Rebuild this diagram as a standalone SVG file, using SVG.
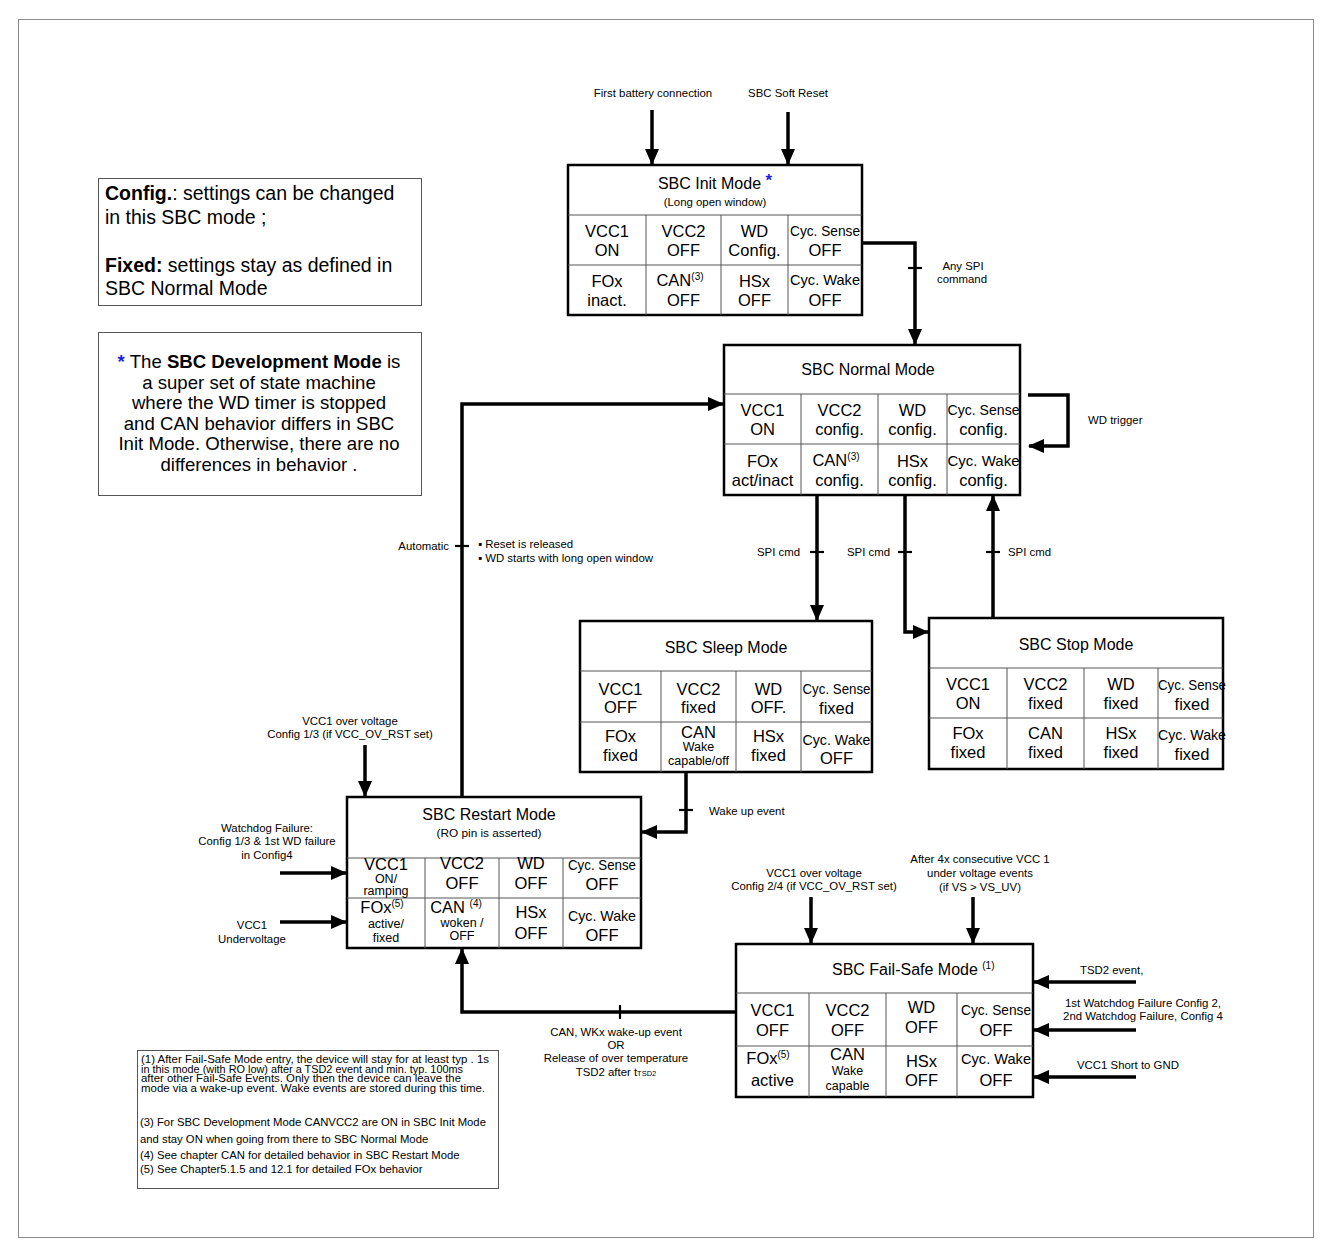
<svg xmlns="http://www.w3.org/2000/svg" width="1332" height="1256" viewBox="0 0 1332 1256">
<defs>
<marker id="ah" markerUnits="userSpaceOnUse" markerWidth="16" markerHeight="14" refX="15" refY="7" orient="auto">
<path d="M0,0 L16,7 L0,14 z" fill="#000"/>
</marker>
<style>
.frame{fill:#fff;stroke:#8a8a8a;stroke-width:1}
.box{fill:#fff;stroke:#000;stroke-width:2.5}
.note{fill:#fff;stroke:#555;stroke-width:1}
.grid{stroke:#555;stroke-width:1;fill:none}
.conn{stroke:#000;stroke-width:3.5;fill:none}
.tick{stroke:#000;stroke-width:2.2}
text{font-family:"Liberation Sans",Arial,sans-serif;fill:#000}
.c{text-anchor:middle;font-size:16.5px}
.cs{text-anchor:middle;font-size:12.5px}
.cy{text-anchor:middle;font-size:15px}
.ti{text-anchor:middle;font-size:16px}
.lb{font-size:11.4px}
.lbc{font-size:11.4px;text-anchor:middle}
.fn{font-size:10.3px}
.fn2{font-size:11.3px}
.nt{font-size:19.5px}
.ntc{font-size:18.6px;text-anchor:middle}
.sup{font-size:10px}
.blue{fill:#1f1fe0;font-weight:bold}
</style>
</defs>
<rect class="frame" x="18.5" y="19.5" width="1295" height="1218"/>

<g id="legend-config">
<rect class="note" x="98.5" y="178.5" width="323" height="127"/>
<text class="nt" x="105" y="200"><tspan font-weight="bold">Config.</tspan>: settings can be changed</text>
<text class="nt" x="105" y="224">in this SBC mode ;</text>
<text class="nt" x="105" y="272"><tspan font-weight="bold">Fixed:</tspan> settings stay as defined in</text>
<text class="nt" x="105" y="295">SBC Normal Mode</text>
</g>

<g id="legend-dev">
<rect class="note" x="98.5" y="332.5" width="323" height="163"/>
<text class="ntc" x="259" y="368"><tspan class="blue">*</tspan> The <tspan font-weight="bold">SBC Development Mode</tspan>  is</text>
<text class="ntc" x="259" y="388.5">a super set of state machine</text>
<text class="ntc" x="259" y="409">where the WD timer is stopped</text>
<text class="ntc" x="259" y="429.5">and CAN behavior differs in SBC</text>
<text class="ntc" x="259" y="450">Init Mode. Otherwise, there are no</text>
<text class="ntc" x="259" y="470.5">differences in behavior .</text>
</g>

<g id="footnotes">
<rect class="note" x="137.5" y="1050.5" width="361" height="138"/>
<text class="fn" x="141" y="1063" textLength="348" lengthAdjust="spacingAndGlyphs">(1) After Fail-Safe Mode entry, the device will stay for at least typ . 1s</text>
<text class="fn" x="141" y="1072.5" textLength="322" lengthAdjust="spacingAndGlyphs">in this mode (with RO low) after a TSD2 event and min. typ. 100ms</text>
<text class="fn" x="141" y="1082" textLength="320" lengthAdjust="spacingAndGlyphs">after other Fail-Safe Events. Only then the device can leave the</text>
<text class="fn" x="141" y="1091.5" textLength="344" lengthAdjust="spacingAndGlyphs">mode via a wake-up event. Wake events are stored during this time.</text>
<text class="fn2" x="140" y="1126">(3) For SBC Development Mode CANVCC2 are ON in SBC Init Mode</text>
<text class="fn2" x="140" y="1143">and stay ON when going from there to SBC Normal Mode</text>
<text class="fn2" x="140" y="1159">(4) See chapter CAN for detailed behavior in SBC Restart Mode</text>
<text class="fn2" x="140" y="1173">(5) See Chapter5.1.5 and 12.1 for detailed FOx behavior</text>
</g>

<g id="init-mode">
<rect class="box" x="568" y="165" width="294" height="150"/>
<path class="grid" d="M568,215H862M568,265H862M646,215V315M721,215V315M788,215V315"/>
<text class="ti" x="715" y="189">SBC Init Mode <tspan class="blue" font-size="17px" dy="-3">*</tspan></text>
<text class="lbc" x="715" y="206">(Long open window)</text>
<text class="c" x="607" y="237">VCC1</text><text class="c" x="607" y="256">ON</text>
<text class="c" x="683.5" y="237">VCC2</text><text class="c" x="683.5" y="256">OFF</text>
<text class="c" x="754.5" y="237">WD</text><text class="c" x="754.5" y="256">Config.</text>
<text class="cy" x="825" y="236" textLength="70" lengthAdjust="spacingAndGlyphs">Cyc. Sense</text><text class="c" x="825" y="256">OFF</text>
<text class="c" x="607" y="287">FOx</text><text class="c" x="607" y="306">inact.</text>
<text class="c" x="680" y="286">CAN<tspan class="sup" dy="-6">(3)</tspan></text><text class="c" x="683.5" y="306">OFF</text>
<text class="c" x="754.5" y="287">HSx</text><text class="c" x="754.5" y="306">OFF</text>
<text class="cy" x="825" y="285" textLength="70" lengthAdjust="spacingAndGlyphs">Cyc. Wake</text><text class="c" x="825" y="306">OFF</text>
</g>

<g id="normal-mode">
<rect class="box" x="724" y="345" width="296" height="150"/>
<path class="grid" d="M724,394H1020M724,444H1020M801,394V495M878,394V495M947,394V495"/>
<text class="ti" x="868" y="375">SBC Normal Mode</text>
<text class="c" x="762.5" y="416">VCC1</text><text class="c" x="762.5" y="435">ON</text>
<text class="c" x="839.5" y="416">VCC2</text><text class="c" x="839.5" y="435">config.</text>
<text class="c" x="912.5" y="416">WD</text><text class="c" x="912.5" y="435">config.</text>
<text class="cy" x="983.5" y="415" textLength="72" lengthAdjust="spacingAndGlyphs">Cyc. Sense</text><text class="c" x="983.5" y="435">config.</text>
<text class="c" x="762.5" y="467">FOx</text><text class="c" x="762.5" y="486">act/inact</text>
<text class="c" x="836" y="466">CAN<tspan class="sup" dy="-6">(3)</tspan></text><text class="c" x="839.5" y="486">config.</text>
<text class="c" x="912.5" y="467">HSx</text><text class="c" x="912.5" y="486">config.</text>
<text class="cy" x="983.5" y="466" textLength="72" lengthAdjust="spacingAndGlyphs">Cyc. Wake</text><text class="c" x="983.5" y="486">config.</text>
</g>

<g id="sleep-mode">
<rect class="box" x="580" y="621" width="292" height="151"/>
<path class="grid" d="M580,671H872M580,722H872M661,671V772M736,671V772M801,671V772"/>
<text class="ti" x="726" y="653">SBC Sleep Mode</text>
<text class="c" x="620.5" y="695">VCC1</text><text class="c" x="620.5" y="713">OFF</text>
<text class="c" x="698.5" y="695">VCC2</text><text class="c" x="698.5" y="713">fixed</text>
<text class="c" x="768.5" y="695">WD</text><text class="c" x="768.5" y="713">OFF.</text>
<text class="cy" x="836.5" y="694" textLength="68" lengthAdjust="spacingAndGlyphs">Cyc. Sense</text><text class="c" x="836.5" y="714">fixed</text>
<text class="c" x="620.5" y="742">FOx</text><text class="c" x="620.5" y="761">fixed</text>
<text class="c" x="698.5" y="738">CAN</text><text class="cs" x="698.5" y="751">Wake</text><text class="cs" x="698.5" y="765">capable/off</text>
<text class="c" x="768.5" y="742">HSx</text><text class="c" x="768.5" y="761">fixed</text>
<text class="cy" x="836.5" y="745" textLength="68" lengthAdjust="spacingAndGlyphs">Cyc. Wake</text><text class="c" x="836.5" y="764">OFF</text>
</g>

<g id="stop-mode">
<rect class="box" x="929" y="618" width="294" height="151"/>
<path class="grid" d="M929,668H1223M929,718H1223M1007,668V769M1084,668V769M1158,668V769"/>
<text class="ti" x="1076" y="650">SBC Stop Mode</text>
<text class="c" x="968" y="690">VCC1</text><text class="c" x="968" y="709">ON</text>
<text class="c" x="1045.5" y="690">VCC2</text><text class="c" x="1045.5" y="709">fixed</text>
<text class="c" x="1121" y="690">WD</text><text class="c" x="1121" y="709">fixed</text>
<text class="cy" x="1192" y="690" textLength="68" lengthAdjust="spacingAndGlyphs">Cyc. Sense</text><text class="c" x="1192" y="710">fixed</text>
<text class="c" x="968" y="739">FOx</text><text class="c" x="968" y="758">fixed</text>
<text class="c" x="1045.5" y="739">CAN</text><text class="c" x="1045.5" y="758">fixed</text>
<text class="c" x="1121" y="739">HSx</text><text class="c" x="1121" y="758">fixed</text>
<text class="cy" x="1192" y="740" textLength="68" lengthAdjust="spacingAndGlyphs">Cyc. Wake</text><text class="c" x="1192" y="760">fixed</text>
</g>

<g id="restart-mode">
<rect class="box" x="347" y="797" width="294" height="151"/>
<path class="grid" d="M347,858H641M347,898H641M425,858V948M499,858V948M563,858V948"/>
<text class="ti" x="489" y="820">SBC Restart Mode</text>
<text class="lbc" x="489" y="837" style="font-size:11.8px">(RO pin is asserted)</text>
<text class="c" x="386" y="870">VCC1</text><text class="cs" x="386" y="883">ON/</text><text class="cs" x="386" y="895">ramping</text>
<text class="c" x="462" y="869">VCC2</text><text class="c" x="462" y="889">OFF</text>
<text class="c" x="531" y="869">WD</text><text class="c" x="531" y="889">OFF</text>
<text class="cy" x="602" y="870" textLength="68" lengthAdjust="spacingAndGlyphs">Cyc. Sense</text><text class="c" x="602" y="890">OFF</text>
<text class="c" x="382" y="913">FOx<tspan class="sup" dy="-6">(5)</tspan></text><text class="cs" x="386" y="928">active/</text><text class="cs" x="386" y="942">fixed</text>
<text class="c" x="456" y="913">CAN <tspan class="sup" dy="-6">(4)</tspan></text><text class="cs" x="462" y="927">woken /</text><text class="cs" x="462" y="940">OFF</text>
<text class="c" x="531" y="918">HSx</text><text class="c" x="531" y="939">OFF</text>
<text class="cy" x="602" y="921" textLength="68" lengthAdjust="spacingAndGlyphs">Cyc. Wake</text><text class="c" x="602" y="941">OFF</text>
</g>

<g id="failsafe-mode">
<rect class="box" x="736" y="944" width="297" height="153"/>
<path class="grid" d="M736,993H1033M736,1046H1033M809,993V1097M886,993V1097M957,993V1097"/>
<text class="ti" x="832" y="975" style="text-anchor:start">SBC Fail-Safe Mode <tspan class="sup" dy="-6">(1)</tspan></text>
<text class="c" x="772.5" y="1016">VCC1</text><text class="c" x="772.5" y="1036">OFF</text>
<text class="c" x="847.5" y="1016">VCC2</text><text class="c" x="847.5" y="1036">OFF</text>
<text class="c" x="921.5" y="1013">WD</text><text class="c" x="921.5" y="1033">OFF</text>
<text class="cy" x="996" y="1015" textLength="70" lengthAdjust="spacingAndGlyphs">Cyc. Sense</text><text class="c" x="996" y="1036">OFF</text>
<text class="c" x="768" y="1064">FOx<tspan class="sup" dy="-6">(5)</tspan></text><text class="c" x="772.5" y="1086">active</text>
<text class="c" x="847.5" y="1060">CAN</text><text class="cs" x="847.5" y="1075">Wake</text><text class="cs" x="847.5" y="1090">capable</text>
<text class="c" x="921.5" y="1067">HSx</text><text class="c" x="921.5" y="1086">OFF</text>
<text class="cy" x="996" y="1064" textLength="70" lengthAdjust="spacingAndGlyphs">Cyc. Wake</text><text class="c" x="996" y="1086">OFF</text>
</g>

<g id="connectors">
<path class="conn" d="M652,110V164" marker-end="url(#ah)"/>
<path class="conn" d="M788,112V164" marker-end="url(#ah)"/>
<path class="conn" d="M863,243H915V344" marker-end="url(#ah)"/>
<path class="tick" d="M908,268H922"/>
<path class="conn" d="M1028,395H1068V446H1029" marker-end="url(#ah)"/>
<path class="conn" d="M817,496V620" marker-end="url(#ah)"/>
<path class="tick" d="M810,552H824"/>
<path class="conn" d="M905,496V632H928" marker-end="url(#ah)"/>
<path class="tick" d="M898,552H912"/>
<path class="conn" d="M993,617V496" marker-end="url(#ah)"/>
<path class="tick" d="M986,552H1000"/>
<path class="conn" d="M462,796V404H723" marker-end="url(#ah)"/>
<path class="tick" d="M455,546H469"/>
<path class="conn" d="M686,773V832H642" marker-end="url(#ah)"/>
<path class="tick" d="M679,810H693"/>
<path class="conn" d="M735,1012H462V949" marker-end="url(#ah)"/>
<path class="tick" d="M620,1005V1019"/>
<path class="conn" d="M365,745V796" marker-end="url(#ah)"/>
<path class="conn" d="M280,873H346" marker-end="url(#ah)"/>
<path class="conn" d="M280,922H346" marker-end="url(#ah)"/>
<path class="conn" d="M811,897V943" marker-end="url(#ah)"/>
<path class="conn" d="M973,897V943" marker-end="url(#ah)"/>
<path class="conn" d="M1136,982H1034" marker-end="url(#ah)"/>
<path class="conn" d="M1136,1030H1034" marker-end="url(#ah)"/>
<path class="conn" d="M1136,1077H1034" marker-end="url(#ah)"/>
</g>

<g id="labels">
<text class="lbc" x="653" y="97">First battery connection</text>
<text class="lbc" x="788" y="97">SBC Soft Reset</text>
<text class="lbc" x="963" y="270">Any SPI</text>
<text class="lbc" x="962" y="283">command</text>
<text class="lb" x="1088" y="424">WD trigger</text>
<text class="lb" x="757" y="556">SPI cmd</text>
<text class="lb" x="847" y="556">SPI cmd</text>
<text class="lb" x="1008" y="556">SPI cmd</text>
<text class="lb" x="449" y="550" text-anchor="end">Automatic</text>
<text class="lb" x="478" y="548">▪  Reset is released</text>
<text class="lb" x="478" y="562">▪  WD starts with long open window</text>
<text class="lb" x="709" y="815">Wake up event</text>
<text class="lbc" x="350" y="725">VCC1 over voltage</text>
<text class="lbc" x="350" y="738">Config 1/3 (if VCC_OV_RST set)</text>
<text class="lbc" x="267" y="832">Watchdog Failure:</text>
<text class="lbc" x="267" y="845">Config 1/3 &amp; 1st WD failure</text>
<text class="lbc" x="267" y="859">in Config4</text>
<text class="lbc" x="252" y="929">VCC1</text>
<text class="lbc" x="252" y="943">Undervoltage</text>
<text class="lbc" x="814" y="877">VCC1 over voltage</text>
<text class="lbc" x="814" y="890">Config 2/4 (if VCC_OV_RST set)</text>
<text class="lbc" x="980" y="863">After 4x consecutive VCC 1</text>
<text class="lbc" x="980" y="877">under voltage  events</text>
<text class="lbc" x="980" y="891">(if VS &gt; VS_UV)</text>
<text class="lb" x="1080" y="974">TSD2 event,</text>
<text class="lbc" x="1143" y="1007">1st Watchdog Failure Config 2,</text>
<text class="lbc" x="1143" y="1020">2nd Watchdog Failure, Config 4</text>
<text class="lb" x="1077" y="1069">VCC1 Short to GND</text>
<text class="lbc" x="616" y="1036">CAN, WKx wake-up event</text>
<text class="lbc" x="616" y="1049">OR</text>
<text class="lbc" x="616" y="1062">Release of over temperature</text>
<text class="lbc" x="616" y="1076">TSD2 after t<tspan font-size="7.5px">TSD2</tspan></text>
</g>
</svg>
